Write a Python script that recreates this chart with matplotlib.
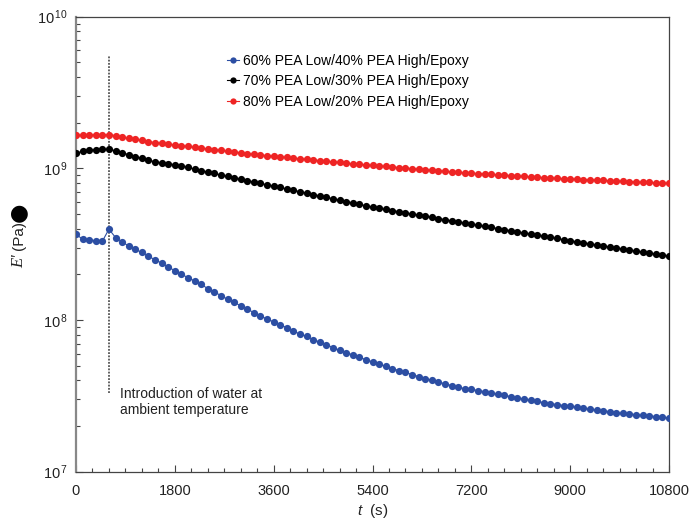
import matplotlib
matplotlib.use('Agg')
import matplotlib.pyplot as plt
import numpy as np
from matplotlib.ticker import FixedLocator, MultipleLocator, NullFormatter, FixedFormatter
from matplotlib.lines import Line2D

plt.rcParams['font.family'] = ['Liberation Sans', 'DejaVu Sans']
plt.rcParams['mathtext.fontset'] = 'custom'
plt.rcParams['mathtext.rm'] = 'Liberation Sans'
plt.rcParams['mathtext.it'] = 'Liberation Sans:italic'

# sampling times (s): one point every 120 s
time_s = np.arange(0, 10801, 120)

labels = ["60% PEA Low/40% PEA High/Epoxy",
          "70% PEA Low/30% PEA High/Epoxy",
          "80% PEA Low/20% PEA High/Epoxy"]
colors = ["#2c4ea3", "#000000", "#ee2424"]

# E' (Pa)
e_60 = [3.68e8, 3.41e8, 3.37e8, 3.34e8, 3.31e8, 3.97e8, 3.50e8, 3.27e8, 3.08e8, 2.92e8,
        2.79e8, 2.63e8, 2.50e8, 2.37e8, 2.23e8, 2.12e8, 2.01e8, 1.90e8, 1.81e8, 1.72e8,
        1.61e8, 1.53e8, 1.45e8, 1.37e8, 1.31e8, 1.24e8, 1.18e8, 1.12e8, 1.07e8, 1.01e8,
        9.75e7, 9.31e7, 8.89e7, 8.45e7, 8.07e7, 7.79e7, 7.44e7, 7.14e7, 6.87e7, 6.59e7,
        6.30e7, 6.08e7, 5.90e7, 5.69e7, 5.47e7, 5.30e7, 5.11e7, 4.96e7, 4.79e7, 4.64e7,
        4.51e7, 4.37e7, 4.24e7, 4.11e7, 4.01e7, 3.91e7, 3.79e7, 3.70e7, 3.60e7, 3.53e7,
        3.49e7, 3.43e7, 3.37e7, 3.31e7, 3.24e7, 3.18e7, 3.13e7, 3.07e7, 3.00e7, 2.96e7,
        2.91e7, 2.85e7, 2.81e7, 2.77e7, 2.73e7, 2.70e7, 2.66e7, 2.62e7, 2.58e7, 2.55e7,
        2.52e7, 2.49e7, 2.45e7, 2.42e7, 2.40e7, 2.38e7, 2.35e7, 2.33e7, 2.31e7, 2.28e7,
        2.26e7]

e_70 = [1.257e9, 1.296e9, 1.315e9, 1.327e9, 1.335e9, 1.335e9, 1.307e9, 1.268e9, 1.230e9, 1.193e9,
        1.165e9, 1.129e9, 1.106e9, 1.089e9, 1.073e9, 1.056e9, 1.036e9, 1.015e9, 9.89e8, 9.67e8,
        9.45e8, 9.27e8, 9.03e8, 8.85e8, 8.65e8, 8.47e8, 8.31e8, 8.12e8, 7.96e8, 7.79e8,
        7.64e8, 7.48e8, 7.32e8, 7.17e8, 7.01e8, 6.87e8, 6.72e8, 6.58e8, 6.44e8, 6.31e8,
        6.17e8, 6.04e8, 5.92e8, 5.79e8, 5.67e8, 5.55e8, 5.45e8, 5.36e8, 5.27e8, 5.18e8,
        5.09e8, 5.00e8, 4.92e8, 4.84e8, 4.75e8, 4.67e8, 4.59e8, 4.51e8, 4.44e8, 4.36e8,
        4.29e8, 4.22e8, 4.15e8, 4.08e8, 4.01e8, 3.94e8, 3.88e8, 3.81e8, 3.75e8, 3.69e8,
        3.63e8, 3.57e8, 3.51e8, 3.45e8, 3.39e8, 3.33e8, 3.28e8, 3.23e8, 3.18e8, 3.13e8,
        3.08e8, 3.03e8, 2.99e8, 2.94e8, 2.89e8, 2.85e8, 2.81e8, 2.76e8, 2.72e8, 2.68e8,
        2.63e8]

e_80 = [1.652e9, 1.652e9, 1.652e9, 1.667e9, 1.667e9, 1.667e9, 1.647e9, 1.603e9, 1.574e9, 1.550e9,
        1.527e9, 1.502e9, 1.479e9, 1.462e9, 1.444e9, 1.427e9, 1.411e9, 1.394e9, 1.378e9, 1.361e9,
        1.345e9, 1.329e9, 1.314e9, 1.298e9, 1.283e9, 1.268e9, 1.253e9, 1.238e9, 1.226e9, 1.215e9,
        1.203e9, 1.192e9, 1.181e9, 1.169e9, 1.158e9, 1.147e9, 1.137e9, 1.126e9, 1.115e9, 1.105e9,
        1.094e9, 1.084e9, 1.073e9, 1.063e9, 1.055e9, 1.046e9, 1.038e9, 1.029e9, 1.021e9, 1.013e9,
        1.005e9, 9.97e8, 9.88e8, 9.80e8, 9.73e8, 9.65e8, 9.57e8, 9.49e8, 9.42e8, 9.36e8,
        9.30e8, 9.25e8, 9.19e8, 9.13e8, 9.08e8, 9.02e8, 8.97e8, 8.91e8, 8.86e8, 8.81e8,
        8.75e8, 8.70e8, 8.65e8, 8.59e8, 8.56e8, 8.52e8, 8.48e8, 8.44e8, 8.40e8, 8.37e8,
        8.33e8, 8.29e8, 8.26e8, 8.22e8, 8.18e8, 8.14e8, 8.11e8, 8.07e8, 8.04e8, 8.00e8,
        7.96e8]

x_ticks = [0, 1800, 3600, 5400, 7200, 9000, 10800]
y_ticks = [1e7, 1e8, 1e9, 1e10]
y_tick_labels = [r'$10^{\,7}$', r'$10^{\,8}$', r'$10^{\,9}$', r'$10^{\,10}$']

water_time = 600

fig = plt.figure(figsize=(6.9, 5.19), dpi=100)
ax = fig.add_axes([76/690, 1-471.7/519, (669-76)/690, (471.7-16.7)/519])

ax.vlines(water_time, 3.3e7, 5.6e9, colors='#555555', linestyles=(0, (1, 0.8)),
          linewidth=1.3, zorder=1)

for vals, col, lab in zip([e_60, e_70, e_80], colors, labels):
    ax.plot(time_s, vals, '-', color=col, lw=0.8, marker='o', markersize=5.2,
            markeredgewidth=0, label=lab, zorder=3)

ax.set_yscale('log')
ax.set_xlim(0, 10800)
ax.set_ylim(1e7, 1e10)

ax.xaxis.set_major_locator(FixedLocator(x_ticks))
ax.xaxis.set_minor_locator(MultipleLocator(300))
ax.set_xticklabels([str(v) for v in x_ticks])
ax.yaxis.set_major_locator(FixedLocator(y_ticks))
ax.yaxis.set_major_formatter(FixedFormatter(y_tick_labels))
minor_y = [m * 10**e for e in range(7, 10) for m in range(2, 10)]
ax.yaxis.set_minor_locator(FixedLocator(minor_y))
ax.yaxis.set_minor_formatter(NullFormatter())

ax.tick_params(axis='both', which='major', direction='in', length=5, width=0.8,
               colors='#444444', labelcolor='#222222', labelsize=10.5)
ax.tick_params(axis='both', which='minor', direction='in', length=3, width=0.8,
               colors='#444444')
ax.tick_params(axis='x', which='major', pad=9)
ax.tick_params(axis='y', which='major', pad=6)

for s in ['top', 'right', 'bottom']:
    ax.spines[s].set_color('#444444')
    ax.spines[s].set_linewidth(0.9)
ax.spines['left'].set_color('#888888')
ax.spines['left'].set_linewidth(1.6)

# axis labels
ax.set_xlabel(r'$\mathit{t}$  (s)', fontsize=11, color='#222222', labelpad=3)
fig.text(19/690, 1-261/519, "E'", rotation=90, ha='center', va='center',
         fontsize=12, family='Liberation Serif', style='italic', color='#222222')
fig.text(19/690, 1-236/519, "(Pa)", rotation=90, ha='center', va='center',
         fontsize=11, color='#222222')
fig.text(18/690, 1-212/519, "\u25CF", rotation=90, ha='center', va='center',
         fontsize=16, family='DejaVu Sans', color='#000000')

# legend
handles = [Line2D([], [], color=c, lw=0.8, marker='o', markersize=4.5, markeredgewidth=0)
           for c in colors]
ax.legend(handles, labels, loc='upper left', bbox_to_anchor=(0.254, 0.918),
          frameon=False, fontsize=10, handlelength=0.9, handletextpad=0.25,
          labelspacing=0.45, borderpad=0, borderaxespad=0)

ax.text((120-76)/593, (471.7-402)/455, "Introduction of water at\nambient temperature",
        transform=ax.transAxes, ha='left', va='center', fontsize=10, color='#222222',
        linespacing=1.25)

fig.savefig('out.png', dpi=100)
